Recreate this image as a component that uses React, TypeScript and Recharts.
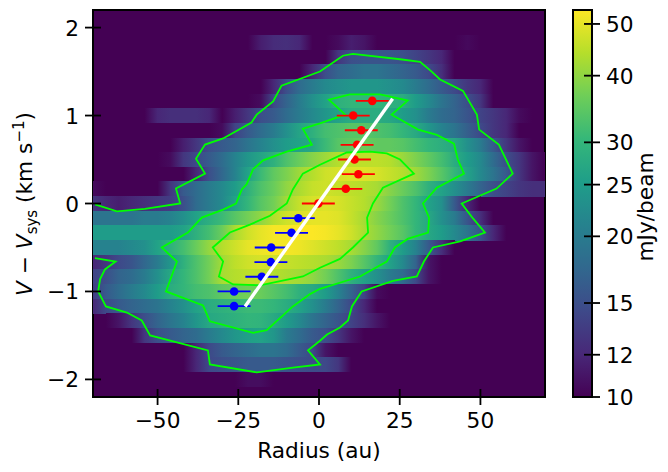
import { ScatterChart, Scatter, XAxis, YAxis, ReferenceArea, Label } from "recharts";

const radiusColumns = [-70,-66,-62,-58,-54,-50,-46,-42,-38,-34,-30,-26,-22,-18,-14,-10,-6,-2,2,6,10,14,18,22,26,30,34,38,42,46,50,54,58,62,66,70];
const velocityRows = [2.167,2,1.833,1.667,1.5,1.333,1.167,1,0.833,0.667,0.5,0.333,0.167,0,-0.167,-0.333,-0.5,-0.667,-0.833,-1,-1.167,-1.333,-1.5,-1.667,-1.833,-2,-2.167];

// mJy/beam, one row per velocity channel
const intensity = [
  [10,10,10,10,10,10,10,10,10,10,10,10,10,10,10,10,10,10,10,10,10,10,10,10,10,10,10,10,10,10,10,10,10,10,10,10],
  [10,10,10,10,10,10,10,10,10,10,10,10,10,10,10,10,10,10,10,10,10,10,10,10,10,10,10,10,10,10,10,10,10,10,10,10],
  [10,10,10,10,10,10,10,10,10,10,10,10,10,11.5,12.3,12.5,12,10,10,10.5,11.5,11,10,10,10,10,10,10,10,10.4,10,10,10,10,10,10],
  [10,10,10,10,10,10,10,10,10,10,10,10,10,10,10,10,10,10,10,13,15,15.5,15.5,15.5,15,14,13,12,10,10,10,10,10,10,10,10],
  [10,10,10,10,10,10,10,10,10,10,10,10,10,10,10,10,10,12,15,17,18,19,19,18,17,16,14.5,12.5,10,10,10,10,10,10,10,10],
  [10,10,10,10,10,10,10,10,10,10,10,10,10,10,12,15,18,20,22,23,24,24,24,23,22,20,18,16,14.5,13,12,10,10,10,10,10],
  [10,10,10,10,10,10,10,10,10,10,10,10,10,10.5,14.5,17,20,23,26,29,30,30,30,29,28,25,22,19,17,15,13,10,10,10,10,10],
  [10,10,10,10,10,12,12.5,12.5,12.5,12,10,11.5,13,15,16,18,20,22,24,26,28,28,28,27,25,23,20,18,17,15.5,14,13,12,10.5,10,10],
  [10,10,10,10,10,10,10,10,10,10,10.5,14,16,18,20,23,26.5,29,32,33,34,34,33,32,30,27.5,24,21,19,16.5,14.5,13,12,10,10,10],
  [10,10,10,10,10,10,10,11.5,13,15,16,17,19,21,23,25,26,27,31,34,35,36,35,35,34,32,30,28.5,27,23,20,16,13,11,10,10],
  [10,10,10,10,10,10,10.5,13,14.5,16,18,21,24,26.5,29,33,36,39,41.5,44,45,45,45,44,41,38,35,32,28,25,22,18,15,13,11,10],
  [10,10,10,10,10,10,10,10,12,15,17.5,21,26,31,35,38,41.5,44,47,48,49,49,48,46,44,41.5,38,34,30,26,22,19,16,13,11,10],
  [10.5,10,10,10,10,10,13,16,18,20,22,25,29,33,36,40,43,46,47,46,45,44,42.5,39,36,33,29,26,23,20,17,15,14,13,12.5,12.5],
  [13,12,11.5,12,12.5,13,13.5,15,18,20,22,26,30,34,37,42,46,48,49,48,46,44,41,37,33,30,26,23,16,12,10,10,10,10,10,10],
  [19,19,19,19,20,20,21,23,26,28.5,31,34,37,40,44,47,49,50,50,49,46,42.5,39,36,33,30,27,23,20,15.5,12.5,10,10,10,10,10],
  [25,25,25,25,25,25,25,26,29,32,36,43,47,50,52,52,53,53,52,50,47,43,40,37,34,30,27,25,22,19,15.5,12,10,10,10,10],
  [21,21,21,22,23,26,29,32,36,40.5,44,47,50,51,52,52,51,49,47,45,42.5,39,35,29,25,21,16,12.5,10,10,10,10,10,10,10,10],
  [12,13,14.5,15.5,17.5,20,24,29,33,37,42,45,47,48,47,46,45,44,43,41,38,34,30,26,22,17,11,10,10,10,10,10,10,10,10,10],
  [14,15,17,18,20,23,27,30,33,37,42.5,44,45,45,44,43,42,40,37,33,29,26,23,20,18,14.5,11,10,10,10,10,10,10,10,10,10],
  [13.5,16,18,20,22,25,28,30,32,33,35,36,37,36,34,32,29,27.5,25,21,17,14,10.5,10,10,10,10,10,10,10,10,10,10,10,10,10],
  [12,14.5,16,17,18,19,21,23,26,28,29,30,31,31,30,28,26,23,20,17,14.5,12,10,10,10,10,10,10,10,10,10,10,10,10,10,10],
  [10,10,11,13,15,17,19,21,24,27,28,29,30,29.5,27.5,25,22,19,17,15.5,14,12.5,11,10,10,10,10,10,10,10,10,10,10,10,10,10],
  [10,10,10,10,13,15,16,17,18,20,22,24,25.5,26,24,20,18,16,15,13,11,10,10,10,10,10,10,10,10,10,10,10,10,10,10,10],
  [10,10,10,10,10,10,10,10,12,14.5,16,17,18,19,19,18,16,14.5,11,10,10,10,10,10,10,10,10,10,10,10,10,10,10,10,10,10],
  [10,10,10,10,10,10,10,10,12,14.5,15,15.5,16,16,16,15.5,15,14.7,14.5,13,10,10,10,10,10,10,10,10,10,10,10,10,10,10,10,10],
  [10,10,10,10,10,10,10,10,10,10,10,10,10.6,10.6,10,10,10,10,10,10,10,10,10,10,10,10,10,10,10,10,10,10,10,10,10,10],
  [10,10,10,10,10,10,10,10,10,10,10,10,10,10,10,10,10,10,10,10,10,10,10,10,10,10,10,10,10,10,10,10,10,10,10,10],
];

const outerContour = [
  [-69.4,-0.62],[-63,-0.66],[-66.3,-0.75],[-67.8,-0.86],[-68.4,-1],[-66,-1.17],[-59.5,-1.24],[-54.9,-1.33],[-52.3,-1.5],[-34.4,-1.67],[-33.8,-1.83],[-19.3,-1.92],[-6.8,-1.86],[0.3,-1.83],[-3.4,-1.67],[0.3,-1.56],[2.5,-1.49],[6.5,-1.41],[9,-1.33],[10.2,-1.17],[13.2,-1],[22.9,-0.88],[30.3,-0.83],[32.5,-0.66],[35.3,-0.5],[43.7,-0.43],[51.4,-0.33],[47.7,-0.17],[44.2,0],[55,0.17],[60,0.34],[55.7,0.67],[49.6,0.84],[48.9,1.01],[44.6,1.28],[37.5,1.41],[34.9,1.5],[31.3,1.61],[25.1,1.64],[10.5,1.7],[7.4,1.68],[0.3,1.5],[-11.6,1.34],[-14.2,1.16],[-19.3,1.01],[-20.9,0.92],[-29.7,0.74],[-35.3,0.67],[-38.1,0.51],[-35.3,0.34],[-44.3,0.17],[-43,0],[-53.9,-0.06],[-62.6,-0.09],[-69.4,-0.01],
];
const middleContour = [
  [0.3,0.91],[-5,0.85],[-2.2,0.67],[-10,0.59],[-17.3,0.49],[-20.4,0.39],[-22.4,0.22],[-23.9,0.16],[-25.7,0],[-29.7,-0.07],[-36.3,-0.16],[-40.6,-0.33],[-48.7,-0.5],[-44,-0.66],[-47.4,-1],[-35.9,-1.16],[-33.8,-1.34],[-20.4,-1.47],[-16.2,-1.44],[-8.1,-1.17],[-2.8,-1.03],[0.3,-0.97],[12.7,-0.83],[21,-0.66],[23.5,-0.5],[27.6,-0.4],[33.8,-0.33],[34.1,-0.16],[32.2,0],[36.5,0.18],[44.9,0.34],[43,0.5],[41.8,0.68],[36.5,0.78],[30.7,0.84],[22.5,1.01],[27.5,1.17],[18.9,1.24],[9.6,1.24],[3.1,1.18],[8.1,1.01],[0.3,0.91],
];
const innerContour = [
  [0.3,0.44],[-5,0.34],[-8.1,0.16],[-10,0],[-15.2,-0.14],[-21.4,-0.24],[-27.6,-0.33],[-32.9,-0.5],[-29.7,-0.66],[-31,-0.83],[-26.6,-0.92],[-18.3,-0.93],[-5,-0.83],[0.3,-0.73],[6.5,-0.63],[10.5,-0.5],[15.2,-0.33],[14.9,-0.16],[16.7,0],[19.8,0.18],[29.4,0.34],[25.1,0.5],[21,0.57],[15.8,0.59],[8.6,0.58],[0.3,0.44],
];

const redRadius = [16.5,10.6,13.1,11.8,11,12.2,8.3,-0.2];
const redVelocity = [1.167,1,0.833,0.667,0.5,0.333,0.167,0];
const blueRadius = [-6.4,-8.5,-14.8,-14.9,-17.7,-26.3,-26.3];
const blueVelocity = [-0.167,-0.333,-0.5,-0.667,-0.833,-1,-1.167];
const radiusError = 5.1;

const fitRadius = [-22.9,22.8];
const fitVelocity = [-1.17,1.19];

const xTicks = [-50,-25,0,25,50];
const yTicks = [-2,-1,0,1,2];
const colorTicks = [10,12,15,20,25,30,40,50];
const V_MIN = 10;
const V_MAX = 53.1;

const VIRIDIS = ["#440154","#482878","#3e4989","#31688e","#26828e","#1f9e89","#35b779","#6ece58","#b5de2b","#fde725"];

function hex(c: string, i: number) {
  return parseInt(c.slice(1 + i * 2, 3 + i * 2), 16);
}

function viridis(t: number) {
  const p = Math.min(Math.max(t, 0), 1) * (VIRIDIS.length - 1);
  const i = Math.min(Math.floor(p), VIRIDIS.length - 2);
  const f = p - i;
  const ch = [0, 1, 2].map(n => Math.round(hex(VIRIDIS[i], n) * (1 - f) + hex(VIRIDIS[i + 1], n) * f));
  return `rgb(${ch.join(",")})`;
}

function logColor(v: number) {
  return viridis(Math.log(v / V_MIN) / Math.log(V_MAX / V_MIN));
}

const FONT = "'DejaVu Sans'";
const FS = 21.7;
const PLOT = { left: 93, right: 545, top: 10, bottom: 397 };
const CELL_W = (4 * (PLOT.right - PLOT.left)) / 140;
const CELL_H = (PLOT.bottom - PLOT.top) / 4.4 / 6;

const toPoints = (pts: number[][]) => pts.map(([x, y]) => ({ x, y }));
const zipPoints = (xs: number[], ys: number[]) => xs.map((x, i) => ({ x, y: ys[i] }));
const errorSegment = (x: number, y: number) => [{ x: x - radiusError, y }, { x: x + radiusError, y }];

const heatCells = velocityRows.flatMap((y, r) =>
  radiusColumns.slice(0, -1).flatMap((x, c) =>
    intensity[r][c] > V_MIN || intensity[r][c + 1] > V_MIN ? [{ x, y, r }] : []
  )
);

function HeatCell({ cx, cy, payload }: any) {
  return (
    <rect x={cx} y={cy - CELL_H / 2} width={CELL_W + 0.4} height={CELL_H + 0.4}
      fill={`url(#row-${payload.r})`} shapeRendering="crispEdges" />
  );
}

const NoMark = () => <g />;
const Dot = ({ cx, cy, fill }: any) => <circle cx={cx} cy={cy} r={4.3} fill={fill} />;

const XTick = ({ x, y, payload }: any) => (
  <g>
    <line x1={x} x2={x} y1={y - 8} y2={y + 8} stroke="#000" strokeWidth={1.8} />
    <text x={x} y={y + 31} textAnchor="middle" fontFamily={FONT} fontSize={FS} fill="#000">
      {String(payload.value).replace("-", "\u2212")}
    </text>
  </g>
);

const YTick = ({ x, y, payload }: any) => (
  <g>
    <line x1={x - 8} x2={x + 8} y1={y} y2={y} stroke="#000" strokeWidth={1.8} />
    <text x={x - 14} y={y + 8} textAnchor="end" fontFamily={FONT} fontSize={FS} fill="#000">
      {String(payload.value).replace("-", "\u2212")}
    </text>
  </g>
);

const BarTick = ({ x, y, payload }: any) => (
  <g>
    <line x1={x - 8} x2={x + 8} y1={y} y2={y} stroke="#000" strokeWidth={1.8} />
    <text x={x + 14} y={y + 8} textAnchor="start" fontFamily={FONT} fontSize={FS} fill="#000">
      {payload.value}
    </text>
  </g>
);

const YTitle = () => (
  <text transform="translate(32,204) rotate(-90)" textAnchor="middle" fontFamily={FONT} fontSize={FS} fill="#000">
    <tspan fontStyle="italic">V</tspan>
    <tspan> − </tspan>
    <tspan fontStyle="italic">V</tspan>
    <tspan dy={5} fontSize={15}>sys</tspan>
    <tspan dy={-5}> (km s</tspan>
    <tspan dy={-8} fontSize={15}>−1</tspan>
    <tspan dy={8}>)</tspan>
  </text>
);

const XTitle = () => (
  <text x={319} y={458} textAnchor="middle" fontFamily={FONT} fontSize={FS} fill="#000">Radius (au)</text>
);

const BarTitle = () => (
  <text transform="translate(653,207) rotate(-90)" textAnchor="middle" fontFamily={FONT} fontSize={FS} fill="#000">mJy/beam</text>
);

const contourLine = { stroke: "#00ff00", strokeWidth: 1.8 };

export default function App() {
  return (
    <div style={{ position: "absolute", left: 0, top: 0, width: 668, height: 472, background: "#fff" }}>
      <div style={{ position: "absolute", left: 0, top: 0 }}>
        <ScatterChart width={668} height={472} margin={{ top: 10, right: 123, bottom: 15, left: 33 }}>
          <defs>
            {intensity.map((row, r) => (
              <linearGradient key={r} id={`row-${r}`} gradientUnits="userSpaceOnUse"
                x1={PLOT.left} x2={PLOT.right} y1={0} y2={0}>
                {row.map((v, c) => (
                  <stop key={c} offset={(radiusColumns[c] + 70) / 140} stopColor={logColor(v)} />
                ))}
              </linearGradient>
            ))}
          </defs>
          <ReferenceArea x1={-70} x2={70} y1={-2.2} y2={2.2} fill={VIRIDIS[0]} fillOpacity={1} stroke="none" />
          <Scatter data={heatCells} shape={HeatCell} isAnimationActive={false} />
          <Scatter data={toPoints(outerContour)} line={contourLine} shape={NoMark} isAnimationActive={false} />
          <Scatter data={toPoints(middleContour)} line={contourLine} shape={NoMark} isAnimationActive={false} />
          <Scatter data={toPoints(innerContour)} line={contourLine} shape={NoMark} isAnimationActive={false} />
          {redRadius.map((x, i) => (
            <Scatter key={`re${i}`} data={errorSegment(x, redVelocity[i])} line={{ stroke: "#ff0000", strokeWidth: 1.8 }} shape={NoMark} isAnimationActive={false} />
          ))}
          {blueRadius.map((x, i) => (
            <Scatter key={`be${i}`} data={errorSegment(x, blueVelocity[i])} line={{ stroke: "#0000ff", strokeWidth: 1.8 }} shape={NoMark} isAnimationActive={false} />
          ))}
          <Scatter data={zipPoints(redRadius, redVelocity)} fill="#ff0000" shape={Dot} isAnimationActive={false} />
          <Scatter data={zipPoints(blueRadius, blueVelocity)} fill="#0000ff" shape={Dot} isAnimationActive={false} />
          <Scatter data={zipPoints(fitRadius, fitVelocity)} line={{ stroke: "#fff", strokeWidth: 3.4 }} shape={NoMark} isAnimationActive={false} />
          <ReferenceArea x1={-70} x2={70} y1={-2.2} y2={2.2} fill="none" stroke="#000" strokeWidth={2} />
          <XAxis type="number" dataKey="x" domain={[-70, 70]} ticks={xTicks} interval={0} height={60}
            allowDataOverflow axisLine={false} tickLine={false} tickSize={0} tickMargin={0} tick={XTick}>
            <Label content={XTitle} />
          </XAxis>
          <YAxis type="number" dataKey="y" domain={[-2.2, 2.2]} ticks={yTicks} interval={0} width={60}
            allowDataOverflow axisLine={false} tickLine={false} tickSize={0} tickMargin={0} tick={YTick}>
            <Label content={YTitle} />
          </YAxis>
        </ScatterChart>
      </div>
      <div style={{ position: "absolute", left: 0, top: 0 }}>
        <ScatterChart width={668} height={472} margin={{ top: 10, right: 16, bottom: 75, left: 573 }}>
          <defs>
            <linearGradient id="colorbar" x1="0" x2="0" y1="1" y2="0">
              {VIRIDIS.map((c, i) => (
                <stop key={c} offset={i / (VIRIDIS.length - 1)} stopColor={c} />
              ))}
            </linearGradient>
          </defs>
          <XAxis type="number" dataKey="x" domain={[0, 1]} hide />
          <YAxis type="number" dataKey="y" orientation="right" scale="log" domain={[V_MIN, V_MAX]} ticks={colorTicks} interval={0}
            width={60} allowDataOverflow axisLine={false} tickLine={false} tickSize={0} tickMargin={0} tick={BarTick}>
            <Label content={BarTitle} />
          </YAxis>
          <Scatter data={[{ x: 0, y: V_MIN }, { x: 1, y: V_MAX }]} shape={NoMark} isAnimationActive={false} />
          <ReferenceArea x1={0} x2={1} y1={V_MIN} y2={V_MAX} fill="url(#colorbar)" fillOpacity={1} stroke="#000" strokeWidth={2} />
        </ScatterChart>
      </div>
    </div>
  );
}
